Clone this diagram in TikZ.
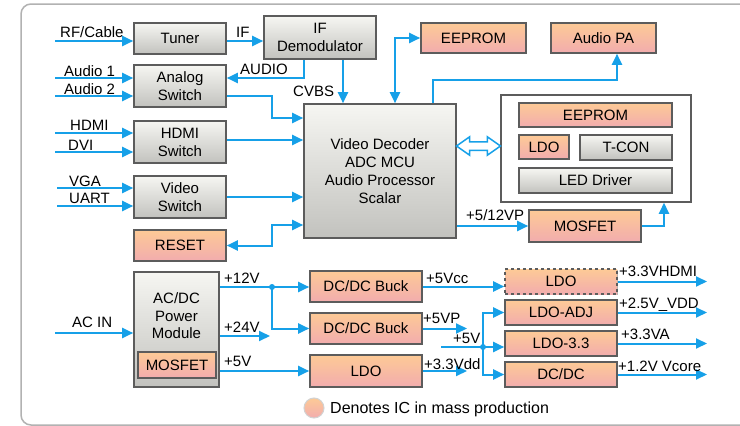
\documentclass[tikz,border=0pt]{standalone}
\usepackage{fontspec}
\setmainfont{Liberation Sans}
\usetikzlibrary{arrows.meta,shapes.arrows,shadows,calc}
\definecolor{ln}{RGB}{22,160,232}
\definecolor{bd}{RGB}{92,92,92}
\definecolor{gtop}{RGB}{246,246,242}
\definecolor{gbot}{RGB}{194,194,190}
\definecolor{otop}{RGB}{253,202,150}
\definecolor{obot}{RGB}{242,172,174}
\definecolor{frm}{RGB}{178,178,178}
\begin{document}
\begin{tikzpicture}[x=1pt,y=-1pt,
 font=\fontsize{15}{18}\selectfont,
 box/.style={draw=bd,line width=1.6pt,inner sep=0pt,align=center,
   drop shadow={shadow xshift=1.2pt,shadow yshift=-1.2pt,opacity=0.3,fill=black}},
 gbox/.style={box,top color=gtop,bottom color=gbot},
 obox/.style={box,top color=otop,bottom color=obot},
 conn/.style={draw=ln,line width=2pt,-{Triangle[length=11pt,width=10pt]}},
 dconn/.style={draw=ln,line width=2pt,{Triangle[length=11pt,width=10pt]}-{Triangle[length=11pt,width=10pt]}},
 plain/.style={draw=ln,line width=2pt},
 lbl/.style={anchor=base west,inner sep=0pt},
 jdot/.style={circle,fill=ln,inner sep=0pt,minimum size=6pt}
]
\clip (0,0) rectangle (740,426);
\fill[white] (0,0) rectangle (740,426);
\draw[frm,line width=1.5pt,rounded corners=10pt] (770,4) -- (21,4) -- (21,425) -- (770,425);

% left column
\node[gbox,minimum width=92pt,minimum height=31pt] (tuner) at (180,38.5) {Tuner};
\node[gbox,minimum width=112pt,minimum height=43pt] (ifd) at (320,37.5) {IF\\Demodulator};
\node[gbox,minimum width=92pt,minimum height=42pt] (asw) at (180,86) {Analog\\Switch};
\node[gbox,minimum width=92pt,minimum height=42pt] (hsw) at (180,142) {HDMI\\Switch};
\node[gbox,minimum width=92pt,minimum height=42pt] (vsw) at (180,197) {Video\\Switch};
\node[obox,minimum width=92pt,minimum height=31pt] (reset) at (180,245.5) {RESET};
\node[gbox,minimum width=152pt,minimum height=134pt] (main) at (380,171) {Video Decoder\\ADC MCU\\Audio Processor\\Scalar};

% top right
\node[obox,minimum width=105pt,minimum height=30pt] (eep1) at (473.5,38) {EEPROM};
\node[obox,minimum width=105pt,minimum height=30pt] (apa) at (603.5,38) {Audio PA};

% panel
\node[draw=bd,line width=1.5pt,fill=white,minimum width=190pt,minimum height=107pt,inner sep=0pt,
  drop shadow={shadow xshift=1.2pt,shadow yshift=-1.2pt,opacity=0.25,fill=black}] (panel) at (596,148.5) {};
\node[obox,minimum width=153pt,minimum height=24pt] (eep2) at (595.5,115) {EEPROM};
\node[obox,minimum width=50pt,minimum height=24pt] (ldo0) at (544,147) {LDO};
\node[gbox,minimum width=92pt,minimum height=25pt] (tcon) at (626,147.5) {T-CON};
\node[gbox,minimum width=153pt,minimum height=25pt] (led) at (595.5,180.5) {LED Driver};
\node[double arrow,draw=ln,fill=white,line width=1.5pt,minimum height=44pt,inner sep=3.5pt,
  double arrow head extend=5pt,double arrow tip angle=70,double arrow head indent=0pt] (dbl) at (478.5,146) {};
\node[obox,minimum width=112pt,minimum height=32pt] (mos1) at (585,226) {MOSFET};

% power section
\node[gbox,minimum width=85pt,minimum height=115pt] (acdc) at (176.5,329.5) {};
\node[align=center,inner sep=0pt,font=\fontsize{15}{17.5}\selectfont] (acdctxt) at (176.5,316) {AC/DC\\Power\\Module};
\node[obox,minimum width=78pt,minimum height=26pt,drop shadow={opacity=0}] (mos2) at (177,365) {MOSFET};
\node[obox,minimum width=112pt,minimum height=31pt] (buck1) at (366,286.5) {DC/DC Buck};
\node[obox,minimum width=112pt,minimum height=31pt] (buck2) at (366,328.5) {DC/DC Buck};
\node[obox,minimum width=112pt,minimum height=32pt] (ldo1) at (366,371) {LDO};
\node[obox,dashed,minimum width=112pt,minimum height=25pt] (ldoh) at (561,281.5) {LDO};
\node[obox,minimum width=112pt,minimum height=25pt] (ldoadj) at (561,312.5) {LDO-ADJ};
\node[obox,minimum width=112pt,minimum height=25pt] (ldo33) at (561,343.5) {LDO-3.3};
\node[obox,minimum width=112pt,minimum height=25pt] (dcdc) at (561,374.5) {DC/DC};

% legend
\node[circle,minimum size=20pt,inner sep=0pt,top color=otop,bottom color=obot,draw=gray!35,line width=1pt] (leg) at (314,408) {};
\node[lbl,font=\fontsize{16}{18}\selectfont] (legtxt) at (330,413) {Denotes IC in mass production};

% inputs
\coordinate (rf) at (55,41);
\coordinate (au1) at (55,78);
\coordinate (au2) at (55,96);
\coordinate (hd) at (55,133);
\coordinate (dv) at (55,152);
\coordinate (vg) at (57,188);
\coordinate (ua) at (57,206);
\coordinate (acin) at (55,333);
\foreach \c/\n in {rf/tuner,au1/asw,au2/asw,hd/hsw,dv/hsw,vg/vsw,ua/vsw,acin/acdc}
  \draw[conn] (\c) -- (\c -| \n.west);
\node[lbl] (lrf) at (60,37) {RF/Cable};
\node[lbl] (la1) at (64,76) {Audio 1};
\node[lbl] (la2) at (64,94) {Audio 2};
\node[lbl] (lhd) at (70,130) {HDMI};
\node[lbl] (ldv) at (68,150) {DVI};
\node[lbl] (lvg) at (69,186) {VGA};
\node[lbl] (lua) at (69,203) {UART};
\node[lbl] (lac) at (72,327) {AC IN};

% upper connectors
\draw[conn] (tuner.east |- rf) -- (ifd.west |- rf);
\node[lbl] (lif) at (236,37) {IF};
\coordinate (aud) at (304,78);
\draw[conn] (aud |- ifd.south) -- (aud) -- (aud -| asw.east);
\node[lbl] (laud) at (240,74) {AUDIO};
\coordinate (cv) at (343,0);
\draw[conn] (cv |- ifd.south) -- (cv |- main.north);
\node[lbl] (lcv) at (293,96) {CVBS};
\coordinate (k1) at (272,118);
\draw[conn] (asw.east |- au2) -| (k1) -- (k1 -| main.west);
\draw[conn] (hsw.east |- 0,140) -- (main.west |- 0,140);
\draw[conn] (vsw.east) -- (vsw.east -| main.west);
\coordinate (k2) at (272,225);
\draw[dconn] (main.west |- k2) -- (k2) |- (reset.east);
\coordinate (k3) at (395,0);
\draw[dconn] (k3 |- main.north) |- (eep1.west);
\coordinate (k4) at (433,80);
\coordinate (k5) at (617,80);
\draw[conn] (k4 |- main.north) -- (k4) -- (k5) -- (k5 |- apa.south);
\draw[conn] (mos1.west -| main.east) -- (mos1.west);
\node[lbl] (l512) at (466,220) {+5/12VP};
\coordinate (k6) at (664,0);
\draw[conn] (mos1.east) -| (k6 |- panel.south);

% power connectors
\coordinate (j1) at (272,287);
\draw[conn] (acdc.east |- j1) -- (buck1.west |- j1);
\draw[conn] (j1) |- (buck2.west);
\node[jdot] (dot1) at (j1) {};
\node[lbl] (l12) at (224,283) {+12V};
\coordinate (k7) at (270,336);
\draw[conn] (acdc.east |- k7) -- (k7);
\node[lbl] (l24) at (224,332) {+24V};
\draw[conn] (acdc.east |- ldo1.west) -- (ldo1.west);
\node[lbl] (l5a) at (224,366) {+5V};

\draw[conn] (buck1.east) -- (ldoh.west |- buck1.east);
\node[lbl] (l5cc) at (426,283) {+5Vcc};
\coordinate (k8) at (467,328);
\draw[conn] (buck2.east) -- (k8 |- buck2.east);
\node[lbl] (l5vp) at (423,323) {+5VP};
\draw[conn] (ldo1.east) -- (ldo1.east -| k8);
\node[lbl] (l33dd) at (424,369) {+3.3Vdd};

\coordinate (s5) at (441,347);
\coordinate (j2) at (483,347);
\draw[plain] (s5) -- (j2);
\draw[conn] (j2) |- (ldoadj.west);
\draw[conn] (j2) |- (dcdc.west);
\draw[conn] (j2) -- (j2 -| ldo33.west);
\node[jdot] (dot2) at (j2) {};
\node[lbl] (l5b) at (453,343) {+5V};

\coordinate (ox) at (707,0);
\foreach \n in {ldoh,ldoadj,ldo33,dcdc}
  \draw[conn] (\n.east) -- (\n.east -| ox);
\node[lbl] (lo1) at (619,276) {+3.3VHDMI};
\node[lbl] (lo2) at (619,308) {+2.5V\_VDD};
\node[lbl] (lo3) at (621,339) {+3.3VA};
\node[lbl] (lo4) at (618,371) {+1.2V Vcore};
\end{tikzpicture}
\end{document}
